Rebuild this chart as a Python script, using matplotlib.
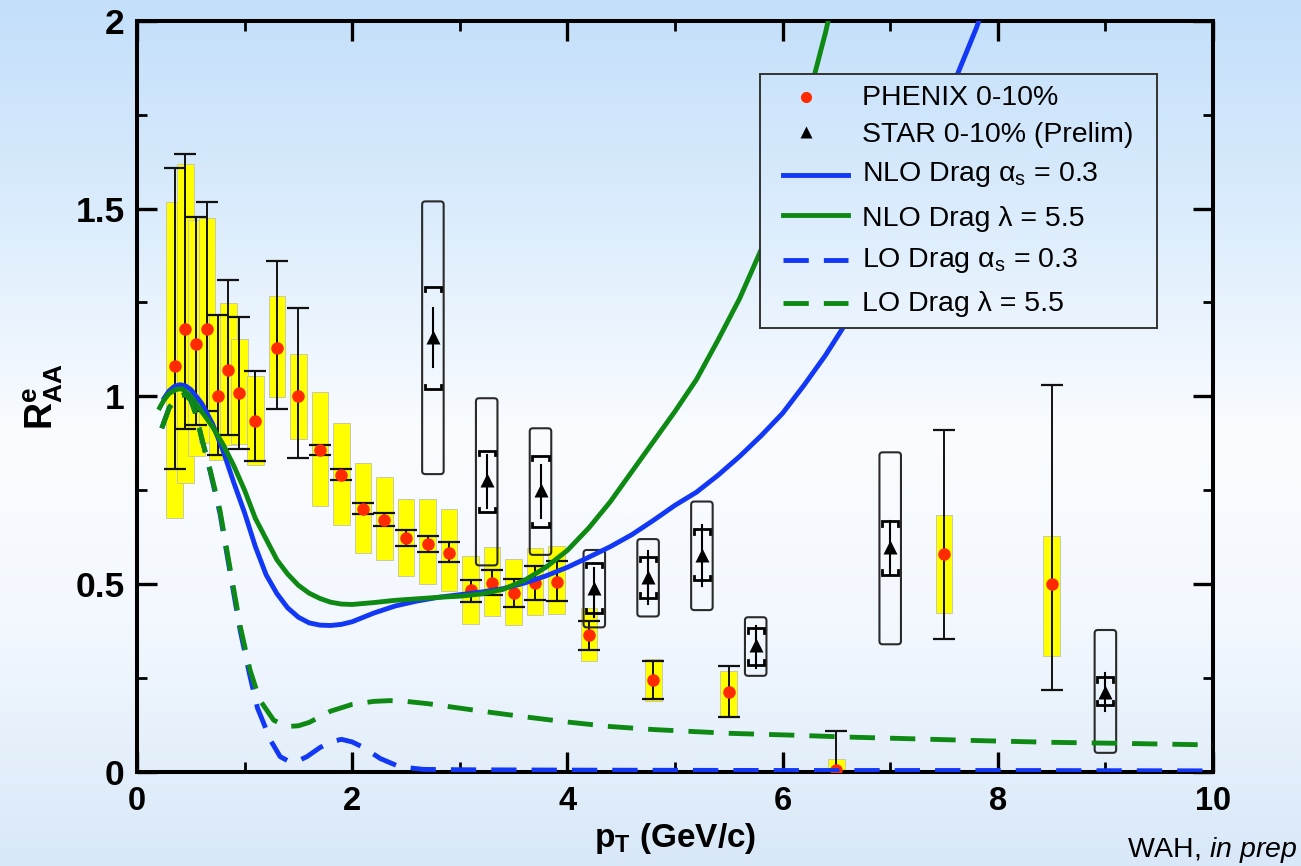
import numpy as np
import matplotlib
matplotlib.use("Agg")
import matplotlib.pyplot as plt
from matplotlib.patches import Rectangle, FancyBboxPatch
from matplotlib.lines import Line2D

plt.rcParams['font.family'] = ['Liberation Sans', 'DejaVu Sans']
plt.rcParams['mathtext.fontset'] = 'custom'
plt.rcParams['mathtext.rm'] = 'Liberation Sans'
plt.rcParams['mathtext.bf'] = 'Liberation Sans:bold'
plt.rcParams['mathtext.it'] = 'Liberation Sans:italic'
plt.rcParams['mathtext.sf'] = 'Liberation Sans'

# ---------------- PHENIX 0-10% ----------------
phx_pt = [0.35, 0.45, 0.55, 0.65, 0.75, 0.85, 0.95, 1.1, 1.3, 1.5, 1.7, 1.9, 2.1, 2.3,
          2.5, 2.7, 2.9, 3.1, 3.3, 3.5, 3.7, 3.9, 4.2, 4.8, 5.5, 6.5, 7.5, 8.5]
phx_raa = [1.08, 1.18, 1.14, 1.18, 1.00, 1.07, 1.01, 0.935, 1.13, 1.00, 0.858, 0.79, 0.70, 0.672,
           0.622, 0.607, 0.584, 0.485, 0.504, 0.476, 0.503, 0.507, 0.365, 0.245, 0.214, 0.005, 0.58, 0.50]
phx_stat_lo = [0.806, 0.914, 0.924, 0.96, 0.844, 0.897, 0.859, 0.828, 0.965, 0.837, 0.844, 0.777, 0.687, 0.655,
               0.602, 0.585, 0.559, 0.453, 0.471, 0.438, 0.458, 0.455, 0.325, 0.194, 0.147, -0.10, 0.355, 0.217]
phx_stat_hi = [1.609, 1.646, 1.478, 1.518, 1.217, 1.309, 1.212, 1.067, 1.359, 1.235, 0.871, 0.806, 0.717, 0.689,
               0.643, 0.629, 0.611, 0.511, 0.538, 0.515, 0.549, 0.562, 0.403, 0.296, 0.283, 0.108, 0.91, 1.03]
phx_sys_lo = [0.676, 0.769, 0.84, 0.876, 0.831, 0.871, 0.873, 0.818, 0.997, 0.886, 0.708, 0.658, 0.583, 0.565,
              0.522, 0.50, 0.482, 0.394, 0.415, 0.391, 0.417, 0.421, 0.296, 0.189, 0.147, -0.03, 0.424, 0.309]
phx_sys_hi = [1.517, 1.618, 1.47, 1.475, 1.217, 1.248, 1.152, 1.054, 1.266, 1.114, 1.011, 0.928, 0.822, 0.784,
              0.726, 0.728, 0.70, 0.576, 0.60, 0.568, 0.597, 0.602, 0.436, 0.301, 0.269, 0.034, 0.683, 0.627]

# ---------------- STAR 0-10% (Prelim) ----------------
star_pt = [2.75, 3.25, 3.75, 4.25, 4.75, 5.25, 5.75, 7.0, 9.0]
star_raa = [1.157, 0.778, 0.751, 0.489, 0.518, 0.578, 0.338, 0.60, 0.214]
star_stat_lo = [1.078, 0.702, 0.676, 0.412, 0.447, 0.494, 0.276, 0.525, 0.163]
star_stat_hi = [1.235, 0.844, 0.818, 0.542, 0.587, 0.658, 0.389, 0.667, 0.264]
star_brk_lo = [1.019, 0.691, 0.652, 0.423, 0.464, 0.511, 0.285, 0.525, 0.178]
star_brk_hi = [1.292, 0.855, 0.842, 0.557, 0.573, 0.646, 0.383, 0.667, 0.252]
star_box_lo = [0.793, 0.55, 0.578, 0.385, 0.414, 0.431, 0.256, 0.340, 0.051]
star_box_hi = [1.519, 0.995, 0.915, 0.591, 0.620, 0.720, 0.412, 0.851, 0.378]

# ---------------- Model curves ----------------
nlo_as_pt = [0.24, 0.30, 0.35, 0.40, 0.45, 0.50, 0.60, 0.70, 0.80, 0.90, 1.00, 1.10, 1.20, 1.30, 1.40,
             1.50, 1.60, 1.70, 1.80, 1.90, 2.00, 2.20, 2.40, 2.60, 2.80, 3.00, 3.20, 3.40, 3.60, 3.80,
             4.00, 4.20, 4.40, 4.60, 4.80, 5.00, 5.20, 5.40, 5.60, 5.80, 6.00, 6.20, 6.40, 6.60, 6.80,
             7.00, 7.20, 7.40, 7.60, 7.80, 7.85]
nlo_as_raa = [0.99, 1.015, 1.027, 1.031, 1.028, 1.018, 0.982, 0.928, 0.855, 0.77, 0.69, 0.60, 0.525, 0.475, 0.437,
              0.412, 0.397, 0.391, 0.390, 0.393, 0.40, 0.423, 0.442, 0.455, 0.465, 0.472, 0.479, 0.488, 0.503, 0.522,
              0.545, 0.572, 0.60, 0.632, 0.67, 0.71, 0.745, 0.79, 0.84, 0.895, 0.955, 1.03, 1.11, 1.20, 1.31,
              1.43, 1.56, 1.70, 1.84, 1.98, 2.02]

nlo_lam_pt = [0.20, 0.25, 0.30, 0.37, 0.42, 0.50, 0.60, 0.70, 0.80, 0.90, 1.00, 1.10, 1.20, 1.30, 1.40,
              1.50, 1.60, 1.70, 1.80, 1.90, 2.00, 2.20, 2.40, 2.60, 2.80, 3.00, 3.20, 3.40, 3.60, 3.80,
              4.00, 4.20, 4.40, 4.60, 4.80, 5.00, 5.20, 5.40, 5.60, 5.80, 6.00, 6.20, 6.40, 6.44]
nlo_lam_raa = [0.964, 0.99, 1.008, 1.019, 1.02, 1.0, 0.96, 0.92, 0.872, 0.815, 0.75, 0.675, 0.62, 0.565, 0.527,
               0.497, 0.476, 0.462, 0.452, 0.447, 0.446, 0.451, 0.457, 0.461, 0.465, 0.468, 0.474, 0.486, 0.51, 0.545,
               0.59, 0.65, 0.72, 0.80, 0.88, 0.96, 1.045, 1.15, 1.26, 1.39, 1.56, 1.75, 1.97, 2.02]

lo_lam_pt = [0.23, 0.30, 0.38, 0.45, 0.50, 0.55, 0.60, 0.68, 0.77, 0.86, 0.96, 1.05, 1.14, 1.27, 1.39,
             1.50, 1.60, 1.80, 2.00, 2.20, 2.35, 2.50, 2.70, 3.00, 3.20, 3.60, 4.00, 4.40, 4.80, 5.50,
             6.10, 6.60, 7.00, 7.90, 8.50, 9.20, 10.0]
lo_lam_raa = [0.915, 0.97, 1.0, 1.005, 0.99, 0.95, 0.89, 0.804, 0.698, 0.55, 0.387, 0.272, 0.192, 0.138, 0.121,
              0.123, 0.132, 0.162, 0.18, 0.188, 0.19, 0.188, 0.182, 0.17, 0.162, 0.147, 0.133, 0.121, 0.113, 0.103,
              0.098, 0.093, 0.09, 0.083, 0.079, 0.076, 0.072]

lo_as_pt = [0.23, 0.30, 0.38, 0.45, 0.50, 0.55, 0.60, 0.68, 0.77, 0.86, 0.96, 1.05, 1.12, 1.17, 1.24,
            1.33, 1.42, 1.50, 1.58, 1.70, 1.80, 1.90, 2.00, 2.10, 2.26, 2.44, 2.66, 3.00, 4.00, 6.00,
            8.00, 10.0]
lo_as_raa = [0.915, 0.97, 1.0, 1.005, 0.99, 0.95, 0.89, 0.80, 0.69, 0.54, 0.375, 0.255, 0.17, 0.135, 0.085,
             0.041, 0.027, 0.03, 0.041, 0.065, 0.08, 0.087, 0.08, 0.066, 0.036, 0.014, 0.007, 0.006, 0.005, 0.004,
             0.004, 0.003]

legend_labels = ['PHENIX 0-10%', 'STAR 0-10% (Prelim)',
                 r'NLO Drag α$_\mathrm{s}$ = 0.3', 'NLO Drag λ = 5.5',
                 r'LO Drag α$_\mathrm{s}$ = 0.3', 'LO Drag λ = 5.5']

W, H = 1301, 866
fig = plt.figure(figsize=(W / 100, H / 100), dpi=100)

# slide-style vertical background gradient
stops_y = [0.0, 0.23, 0.50, 0.72, 1.0]
stops_rgb = np.array([[195, 223, 250], [217, 235, 252], [250, 252, 255], [243, 248, 254], [216, 232, 248]]) / 255.0
rows = np.linspace(0, 1, H)
grad = np.stack([np.interp(rows, stops_y, stops_rgb[:, c]) for c in range(3)], axis=-1)
grad_img = np.repeat(grad[:, None, :], 8, axis=1)
bg = fig.add_axes([0, 0, 1, 1], zorder=-10)
bg.imshow(grad_img, extent=[0, 1, 0, 1], aspect='auto', origin='upper')
bg.set_axis_off()

L, R, T, B = 137, 1213, 20.7, 772
ax = fig.add_axes([L / W, 1 - B / H, (R - L) / W, (B - T) / H])
ax.patch.set_alpha(0)
ax.set_xlim(0, 10)
ax.set_ylim(0, 2)

# PHENIX systematic boxes
bw = 0.155
for x, lo, hi in zip(phx_pt, phx_sys_lo, phx_sys_hi):
    ax.add_patch(Rectangle((x - bw / 2, lo), bw, hi - lo, facecolor='#FFFF00',
                           edgecolor='#C9C9A6', lw=0.7, zorder=2))
# PHENIX statistical bars
pt = np.array(phx_pt)
raa = np.array(phx_raa)
ax.errorbar(pt, raa, yerr=[raa - np.array(phx_stat_lo), np.array(phx_stat_hi) - raa],
            fmt='none', ecolor='#111111', elinewidth=1.4, capsize=7.8, capthick=1.6, zorder=3)

# STAR: outer boxes, bracket-style errors and stat lines
sbw = 0.2
for x, y, slo, shi, blo, bhi, olo, ohi in zip(star_pt, star_raa, star_stat_lo, star_stat_hi,
                                              star_brk_lo, star_brk_hi, star_box_lo, star_box_hi):
    ax.add_patch(FancyBboxPatch((x - sbw / 2, olo), sbw, ohi - olo,
                                boxstyle='round,pad=0,rounding_size=0.03', mutation_aspect=0.287,
                                facecolor='none', edgecolor='#2a2a2a', lw=1.5, zorder=3))
    ax.plot([x, x], [slo, shi], color='black', lw=1.5, zorder=4)
    hw, tk = 0.075, 0.012
    ax.plot([x - hw, x - hw, x + hw, x + hw], [bhi - tk, bhi, bhi, bhi - tk],
            color='black', lw=2.0, solid_joinstyle='miter', zorder=4)
    ax.plot([x - hw, x - hw, x + hw, x + hw], [blo + tk, blo, blo, blo + tk],
            color='black', lw=2.0, solid_joinstyle='miter', zorder=4)

h_phx, = ax.plot(phx_pt, phx_raa, 'o', color='#FF2A00', ms=9, mec='none', zorder=5)
h_star, = ax.plot(star_pt, star_raa, '^', color='black', ms=10, mec='none', zorder=5)

blue = '#1238F5'
green = '#0E8A14'
lw_c = 3.5
dash = (0, (5.2, 3.1))
h1, = ax.plot(nlo_as_pt, nlo_as_raa, color=blue, lw=lw_c, zorder=6, solid_capstyle='butt')
h2, = ax.plot(nlo_lam_pt, nlo_lam_raa, color=green, lw=lw_c, zorder=6, solid_capstyle='butt')
h3, = ax.plot(lo_as_pt, lo_as_raa, color=blue, lw=lw_c, ls=dash, zorder=6)
h4, = ax.plot(lo_lam_pt, lo_lam_raa, color=green, lw=lw_c, ls=dash, zorder=6)

# axes styling
for s in ax.spines.values():
    s.set_linewidth(2.9)
ax.set_xticks([0, 2, 4, 6, 8, 10])
ax.set_xticks([1, 3, 5, 7, 9], minor=True)
ax.set_yticks([0, 0.5, 1, 1.5, 2])
ax.set_yticklabels(['0', '0.5', '1', '1.5', '2'])
ax.set_yticks([0.25, 0.75, 1.25, 1.75], minor=True)
ax.tick_params(which='both', direction='in', top=True, right=True)
ax.tick_params(which='major', length=14.5, width=2.4)
ax.tick_params(which='minor', length=7.2, width=2.0)
ax.tick_params(axis='y', which='major', labelsize=25.5, pad=9)
ax.tick_params(axis='x', which='major', labelsize=23.5, pad=10)
for lab in ax.get_xticklabels() + ax.get_yticklabels():
    lab.set_fontweight('bold')

ax.set_xlabel(r'$\mathbf{p_T}$ (GeV/c)', fontsize=24, fontweight='bold')
ax.xaxis.set_label_coords(0.5, (B - 846.7) / (B - T))
ax.xaxis.label.set_va('baseline')
ax.set_ylabel(r'$\mathbf{R^{e}_{AA}}$', fontsize=27)
ax.yaxis.set_label_coords(-0.067, 0.5)

fig.text(1298 / W, 1 - 856.7 / H, r'WAH, $\mathit{in\ prep}$', fontsize=20.5, ha='right', va='baseline')

# legend panel with its own slice of the background
lx0, ly0, lx1, ly1 = 760, 74, 1157, 328
lax = fig.add_axes([lx0 / W, 1 - ly1 / H, (lx1 - lx0) / W, (ly1 - ly0) / H], zorder=5)
lax.imshow(grad_img[int(ly0):int(ly1)], extent=[0, 1, 0, 1], aspect='auto', origin='upper')
lax.set_xlim(0, 1)
lax.set_ylim(0, 1)
lax.set_xticks([])
lax.set_yticks([])
for s in lax.spines.values():
    s.set_linewidth(1.4)
    s.set_edgecolor('#333333')


def fx(px):
    return (px - lx0) / (lx1 - lx0)


def fy(py):
    return 1 - (py - ly0) / (ly1 - ly0)


handle_y = [97.3, 131.5, 175, 214.5, 260, 302.5]
text_base = [105, 141.7, 180.7, 225.7, 266.7, 310.7]
lax.plot([fx(806)], [fy(handle_y[0])], 'o', color=h_phx.get_color(), ms=8, mec='none')
lax.plot([fx(806)], [fy(handle_y[1])], '^', color='black', ms=9, mec='none')
for hy, h, style in zip(handle_y[2:], [h1, h2, h3, h4], ['-', '-', dash, dash]):
    lax.add_line(Line2D([fx(783), fx(848)], [fy(hy), fy(hy)], color=h.get_color(),
                        lw=lw_c, linestyle=style))
for tb, lab in zip(text_base, legend_labels):
    lax.text(fx(861.5), fy(tb), lab, fontsize=20.5, ha='left', va='baseline')

fig.savefig('out.png', dpi=100)
